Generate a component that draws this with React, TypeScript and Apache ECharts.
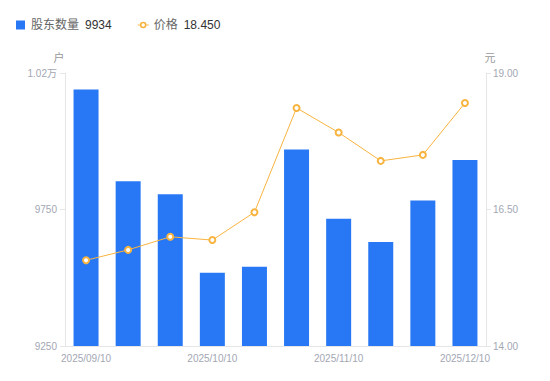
import React, { useEffect, useRef } from "react";
import * as echarts from "echarts";

const categories = [
  "2025/09/10", "2025/09/20", "2025/09/30", "2025/10/10", "2025/10/20",
  "2025/10/31", "2025/11/10", "2025/11/20", "2025/11/30", "2025/12/10",
];
const holders = [10143, 9823, 9778, 9505, 9526, 9934, 9693, 9612, 9756, 9897];
const prices = [15.57, 15.76, 16.0, 15.94, 16.45, 18.36, 17.91, 17.39, 17.5, 18.45];

const leftTickValues = [9250, 9725, 10200];
const leftTickLabels = ["9250", "9750", "1.02万"];
const rightTickValues = [14, 16.5, 19];

const legendValues: Record<string, string> = { "股东数量": "9934", "价格": "18.450" };

const FONT = 'Arial, "Liberation Sans", "Noto Sans CJK SC", sans-serif';
const LABEL_COLOR = "#a3a7b3";
const AXIS_COLOR = "#e6e6e6";

const LINE_ICON =
  "path://M0,4L2.3,4L2.3,5L0,5Z" +
  "M8.7,4L11,4L11,5L8.7,5Z" +
  "M2.2,4.5A3.3,3.3,0,1,0,8.8,4.5A3.3,3.3,0,1,0,2.2,4.5Z" +
  "M3.8,4.5A1.7,1.7,0,1,1,7.2,4.5A1.7,1.7,0,1,1,3.8,4.5Z";

export default function App() {
  const ref = useRef<HTMLDivElement>(null);
  useEffect(() => {
    if (!ref.current) return;
    const chart = echarts.init(ref.current, undefined, { renderer: "svg" });
    chart.setOption({
      animation: false,
      textStyle: { fontFamily: FONT },
      legend: {
        left: 11,
        top: 14,
        itemWidth: 11,
        itemHeight: 9,
        itemGap: 26,
        data: [
          { name: "股东数量", icon: "path://M0,0L1,0L1,1L0,1Z" },
          { name: "价格", icon: LINE_ICON, itemStyle: { color: "#f8b440", borderWidth: 0 } },
        ],
        formatter: (name: string) => `{n|${name}}{v|${legendValues[name]}}`,
        textStyle: {
          fontFamily: FONT,
          rich: {
            n: { color: "#666", fontSize: 12, fontFamily: FONT },
            v: { color: "#333", fontSize: 12, fontFamily: FONT, padding: [0, 0, 0, 6] },
          },
        },
      },
      grid: { left: 65, right: 64, top: 73, bottom: 35, containLabel: false },
      xAxis: {
        type: "category",
        data: categories,
        axisLine: { lineStyle: { color: AXIS_COLOR } },
        axisTick: { show: false },
        axisLabel: { interval: 2, color: LABEL_COLOR, fontSize: 10, margin: 7, fontFamily: FONT },
      },
      yAxis: [
        {
          type: "value",
          name: "户",
          nameGap: 10,
          nameTextStyle: { color: "#999", fontSize: 11, padding: [0, 12, 0, 0], fontFamily: FONT },
          min: 9250,
          max: 10200,
          axisLine: { show: true, lineStyle: { color: AXIS_COLOR } },
          axisTick: { show: true, length: 5, lineStyle: { color: AXIS_COLOR }, customValues: leftTickValues },
          splitLine: { show: false },
          axisLabel: {
            color: LABEL_COLOR,
            fontSize: 10,
            margin: 8,
            fontFamily: FONT,
            customValues: leftTickValues,
            formatter: (v: number) => {
              const i = leftTickValues.indexOf(v);
              return i >= 0 ? leftTickLabels[i] : "";
            },
          },
        },
        {
          type: "value",
          name: "元",
          nameGap: 10,
          nameTextStyle: { color: "#999", fontSize: 11, padding: [0, 0, 0, 8], fontFamily: FONT },
          min: 14,
          max: 19,
          position: "right",
          axisLine: { show: true, lineStyle: { color: AXIS_COLOR } },
          axisTick: { show: true, length: 5, lineStyle: { color: AXIS_COLOR }, customValues: rightTickValues },
          splitLine: { show: false },
          axisLabel: {
            color: LABEL_COLOR,
            fontSize: 10,
            margin: 7,
            fontFamily: FONT,
            customValues: rightTickValues,
            formatter: (v: number) => v.toFixed(2),
          },
        },
      ],
      series: [
        {
          name: "股东数量",
          type: "bar",
          data: holders,
          barWidth: 25,
          itemStyle: { color: "#2878f5" },
        },
        {
          name: "价格",
          type: "line",
          yAxisIndex: 1,
          data: prices,
          symbol: "emptyCircle",
          symbolSize: 6,
          lineStyle: { color: "#f8b440", width: 1 },
          itemStyle: { color: "#f8b440", borderWidth: 2 },
        },
      ],
    });
    return () => chart.dispose();
  }, []);
  return (
    <div
      ref={ref}
      style={{ position: "absolute", left: 0, top: 0, width: 550, height: 381 }}
    />
  );
}
